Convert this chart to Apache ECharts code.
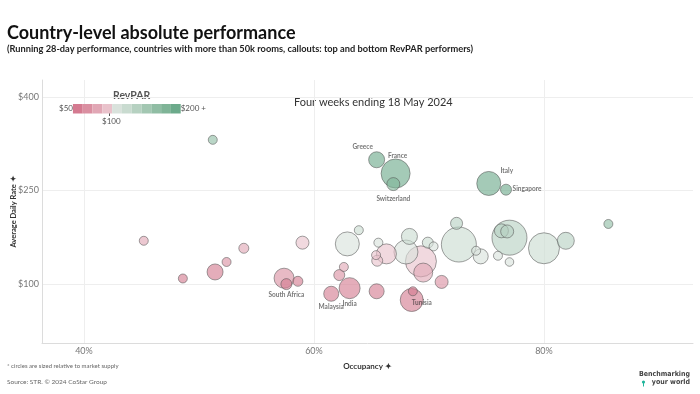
<!DOCTYPE html>
<html>
<head>
<meta charset="utf-8">
<script src="https://cdn.jsdelivr.net/npm/echarts@6/dist/echarts.min.js"></script>
<style>html,body{margin:0;padding:0;background:#fff}#c{width:700px;height:394px}</style>
</head>
<body>
<div id="c"></div>
<script>
// ---- data ----
var occupancy = [51.2,65.45,67.1,66.9,75.2,76.7,72.4,68.3,72.6,74.1,74.5,77.0,76.3,76.8,76.0,77.0,80.0,81.9,85.6,59.0,62.9,63.9,65.6,66.3,65.4,65.5,62.6,62.2,61.5,63.1,65.45,68.0,69.9,70.4,69.3,69.5,71.1,68.6,68.5,45.2,48.6,51.4,52.4,53.9,57.4,57.6,58.6];
var adr       = [331,299,277,260,261,251,197,176,163,153,144,174,185,184,145,135,157,169,196,166,164,186,166,148,146,137,127,114,84,93,88,151,166,160,136,118,103,88,74,169,108.5,119,135,157,109,99.5,104];
var supply    = [55,174,571,115,391,82,98,174,832,55,153,832,133,115,55,50,653,196,55,115,391,55,55,272,55,82,55,82,153,300,153,391,82,55,653,245,115,55,359,55,55,174,55,68,272,82,68];
var countries = ['','Greece','France','Switzerland','Italy','Singapore','','','','','','','','','','','','','','','','','','','','','','','Malaysia','India','','','','','','','','Tunisia','','','','','','','','South Africa',''];
var yTicks = [100,250,400];
var xTicks = [40,60,80];
var revparBreaks = [62.5,75,87.5,100,114.3,128.6,142.9,157.1,171.4,185.7];
var revparColors = ['#d47a90','#da8fa1','#e1a7b5','#e9c2cb','#d9e2dc','#c9dbd0','#b6d1c1','#a3c7b2','#90bda4','#7fb497','#6caa8b'];

// ---- label placement (style) ----
var labelOffsets = {
  'Greece':[-14,-13],'France':[2,-18],'Switzerland':[0,15],'Italy':[18,-13],'Singapore':[21,-1],
  'South Africa':[0,10.5],'Malaysia':[0,13],'India':[0,16],'Tunisia':[9,12]
};

var pts = occupancy.map(function(o,i){
  var rp = o/100*adr[i];
  var item = {name: countries[i], value:[o, adr[i], supply[i], rp]};
  if (countries[i]) {
    item.label = {show:true, position:'inside', offset: labelOffsets[countries[i]], formatter: countries[i],
      color:'#222', fontFamily:'Lato', fontWeight:'bold', fontSize:6.5};
  }
  return item;
});
pts.sort(function(a,b){return b.value[2]-a.value[2];});

var pieces = [];
for (var i=0;i<revparColors.length;i++){
  var p = {color: revparColors[i]};
  if (i>0) p.gte = revparBreaks[i-1];
  if (i<revparBreaks.length) p.lt = revparBreaks[i];
  pieces.push(p);
}

var chart = echarts.init(document.getElementById('c'), null, {renderer:'canvas'});
chart.setOption({
  animation:false,
  backgroundColor:'#fff',
  grid:{left:42, right:7, top:80, bottom:51, outerBoundsMode:'none', containLabel:false},
  xAxis:{type:'value', min:36.35, max:92.96,
    axisLine:{show:true, lineStyle:{color:'#dcdcdc'}},
    axisTick:{show:false, customValues:xTicks},
    splitLine:{show:true, lineStyle:{color:'#eeeeee'}},
    axisLabel:{customValues:xTicks, formatter:'{value}%', color:'#777', fontFamily:'Lato', fontSize:9, margin:4},
    name:'Occupancy ✦', nameLocation:'middle', nameGap:19,
    nameTextStyle:{color:'#333', fontFamily:'Lato', fontWeight:'bold', fontSize:8}
  },
  yAxis:{type:'value', min:5, max:427,
    axisLine:{show:true, lineStyle:{color:'#dcdcdc'}},
    axisTick:{show:false, customValues:yTicks},
    splitLine:{show:true, lineStyle:{color:'#eeeeee'}},
    axisLabel:{customValues:yTicks, formatter:'${value}', color:'#777', fontFamily:'Lato', fontSize:9, margin:3},
    name:'Average Daily Rate ✦', nameLocation:'middle', nameGap:24, nameMoveOverlap:false,
    nameTextStyle:{color:'#333', fontFamily:'Lato', fontWeight:'bold', fontSize:7.5}
  },
  visualMap:{type:'piecewise', dimension:3, pieces:pieces, orient:'horizontal',
    left:44, top:89, itemWidth:9.8, itemHeight:9.5, itemGap:0, itemSymbol:'rect',
    text:['$200 +','$50'], textGap:2, selectedMode:false, hoverLink:false,
    textStyle:{color:'#555', fontFamily:'Lato', fontSize:8}
  },
  series:[{type:'scatter', data:pts,
    symbolSize:function(v){return Math.sqrt(v[2])*1.2136;},
    itemStyle:{opacity:0.62, borderColor:'#555', borderWidth:0.9},
    emphasis:{disabled:true}
  }],
  graphic:[
    {type:'text', left:7, top:24, style:{text:'Country-level absolute performance', font:'bold 18px Lato', fill:'#111'}},
    {type:'text', left:7, top:45, style:{text:'(Running 28-day performance, countries with more than 50k rooms, callouts: top and bottom RevPAR performers)', font:'bold 9.25px Lato', fill:'#222'}},
    {type:'text', left:294, top:97, style:{text:'Four weeks ending 18 May 2024', font:'11px Lato', fill:'#333'}},
    {type:'text', left:113, top:90, style:{text:'RevPAR', font:'bold 10.5px Lato', fill:'#555'}},
    {type:'text', left:102, top:117, style:{text:'$100', font:'8px Lato', fill:'#555'}},
    {type:'line', shape:{x1:109.5,y1:113,x2:109.5,y2:116}, style:{stroke:'#555', lineWidth:1}},
    {type:'text', left:7, top:363, style:{text:'* circles are sized relative to market supply', font:'6px Lato', fill:'#666'}},
    {type:'text', left:7, top:378, style:{text:'Source: STR. © 2024 CoStar Group', font:'6.5px Lato', fill:'#666'}},
    {type:'text', right:10, top:371, style:{text:'Benchmarking', font:'bold 7px "DejaVu Sans Condensed"', fill:'#444'}},
    {type:'text', right:10, top:379, style:{text:'your world', font:'bold 7px "DejaVu Sans Condensed"', fill:'#444'}},
    {type:'circle', shape:{cx:643.5, cy:382, r:1.6}, style:{fill:'#1fb59b'}},
    {type:'line', shape:{x1:643.5,y1:382,x2:643.5,y2:386.5}, style:{stroke:'#1fb59b', lineWidth:1}}
  ]
});
</script>
</body>
</html>
